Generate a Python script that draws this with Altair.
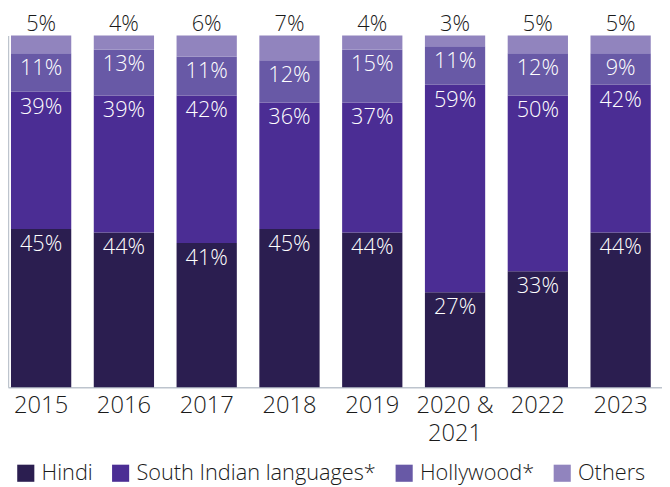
import altair as alt
import pandas as pd

years = ["2015", "2016", "2017", "2018", "2019", "2020 & 2021", "2022", "2023"]
series = ["Hindi", "South Indian languages*", "Hollywood*", "Others"]
hindi = [45, 44, 41, 45, 44, 27, 33, 44]
south = [39, 39, 42, 36, 37, 59, 50, 42]
holly = [11, 13, 11, 12, 15, 11, 12, 9]
others = [5, 4, 6, 7, 4, 3, 5, 5]
colors = ["#2b1e50", "#4b2d94", "#6859a6", "#9184be"]

rows = []
for i, yr in enumerate(years):
    base = 0
    for s, vals in zip(series, [hindi, south, holly, others]):
        v = vals[i]
        rows.append({"year": yr, "series": s, "value": v, "start": base,
                     "end": base + v, "label": f"{v}%", "inside": s != "Others"})
        base += v
df = pd.DataFrame(rows)

FONT = "Open Sans"
axis_color = "#bdc4cd"

x = alt.X("year:N", sort=years, title=None,
          scale=alt.Scale(paddingInner=0.272, paddingOuter=0.086, align=0.21),
          axis=alt.Axis(labelAngle=0, ticks=False, labelPadding=7, labelFontSize=24,
                        labelColor="#1a1a1a", domainColor=axis_color, domainWidth=1.5,
                        labelFont=FONT, labelFontWeight=300, labelLineHeight=28,
                        labelExpr="datum.value == '2020 & 2021' ? ['2020 &', '2021'] : datum.label"))

y = alt.Y("start:Q", scale=alt.Scale(domain=[0, 100], nice=False),
          axis=alt.Axis(labels=False, ticks=False, grid=False, title=None,
                        domainColor=axis_color, domainWidth=1.5))

color = alt.Color("series:N", scale=alt.Scale(domain=series, range=colors),
                  legend=alt.Legend(orient="none", legendX=7, legendY=432,
                                    direction="horizontal", title=None,
                                    symbolType="square", symbolSize=300,
                                    symbolStrokeWidth=0, symbolOpacity=1,
                                    labelFontSize=22, labelFont=FONT, labelFontWeight=300,
                                    labelOffset=5, columnPadding=17, labelLimit=0,
                                    labelColor="#1a1a1a", padding=0))

base = alt.Chart(df)

bars = base.mark_bar().encode(x=x, y=y, y2="end:Q", color=color)

inside = base.transform_filter("datum.inside").mark_text(
    dy=22, baseline="alphabetic", fontSize=22, color="white", font=FONT, fontWeight=300
).encode(x=alt.X("year:N", sort=years), y=alt.Y("end:Q"), text="label:N")

top = base.transform_filter("!datum.inside").mark_text(
    dy=-5, baseline="alphabetic", fontSize=22, color="#1a1a1a", font=FONT, fontWeight=300
).encode(x=alt.X("year:N", sort=years), y=alt.Y("end:Q"), text="label:N")

chart = alt.layer(bars, inside, top).properties(
    width=662, height=356,
    padding={"left": 0, "top": 25, "right": 0, "bottom": 98},
    autosize=alt.AutoSizeParams(type="none"),
).configure_view(stroke=None)

chart.save("out.html", embed_options={"renderer": "svg", "actions": False})
